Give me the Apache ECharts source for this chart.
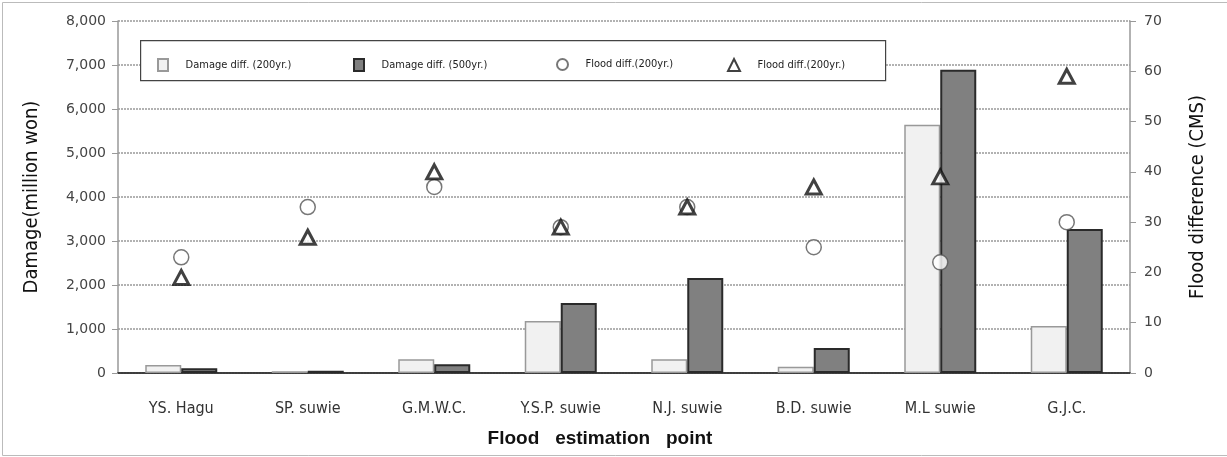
<!DOCTYPE html>
<html>
<head>
<meta charset="utf-8">
<script src="https://cdn.jsdelivr.net/npm/echarts@6/dist/echarts.min.js"></script>
<style>
  html, body { margin: 0; padding: 0; background: #fff; }
  #chart { width: 1227px; height: 457px; }
</style>
</head>
<body>
<div id="chart"></div>
<script>
const points = ["YS. Hagu", "SP. suwie", "G.M.W.C.", "Y.S.P. suwie", "N.J. suwie", "B.D. suwie", "M.L suwie", "G.J.C."];
const damage200 = [180, 40, 310, 1180, 310, 140, 5640, 1070];
const damage500 = [110, 50, 200, 1590, 2160, 570, 6890, 3270];
const flood200Circle = [23, 33, 37, 29, 33, 25, 22, 30];
const flood200Triangle = [19, 27, 40, 29, 33, 37, 39, 59];

const legendNames = ["Damage diff. (200yr.)", "Damage diff. (500yr.)", "Flood diff.(200yr.)", "Flood diff.(200yr.) "];

const chart = echarts.init(document.getElementById("chart"));

const narrow = "'DejaVu Sans Condensed', 'Liberation Sans', sans-serif";
const legendText = { fontFamily: narrow, fontSize: 11, color: "#222" };

function oneLegend(name, left, icon, w, h) {
  return {
    data: [{ name: name, icon: icon }],
    left: left,
    top: 53,
    itemWidth: w,
    itemHeight: h,
    itemGap: 0,
    textStyle: legendText,
    selectedMode: false,
  };
}

const option = {
  animation: false,
  backgroundColor: "#fff",
  graphic: [
    { type: "rect", left: 0, top: 0, shape: { width: 1226, height: 453 }, style: { fill: "none", stroke: "#bbb", lineWidth: 1 } },
    { type: "rect", left: 140, top: 40, shape: { width: 745, height: 40 }, style: { fill: "#fff", stroke: "#444", lineWidth: 1.2 }, z: 5 },
  ],
  legend: [
    oneLegend(legendNames[0], 152, "rect", 10, 12),
    oneLegend(legendNames[1], 348, "rect", 10, 12),
    oneLegend(legendNames[2], 551, "circle", 11, 11),
    oneLegend(legendNames[3], 722, "triangle", 12, 12),
  ].map((l) => Object.assign(l, { z: 10, formatter: (n) => "    " + n.trim() })),
  grid: { left: 118, right: 97, top: 21, bottom: 84 },
  xAxis: [
    {
      type: "category",
      data: points,
      axisLine: { lineStyle: { color: "#888", width: 1.5 } },
      axisTick: { show: false },
      axisLabel: { fontFamily: narrow, fontSize: 16, color: "#333", margin: 28 },
      name: "Flood   estimation   point",
      nameLocation: "middle",
      nameGap: 56,
      nameTextStyle: {
        fontFamily: "'Liberation Sans', sans-serif",
        fontWeight: "bold",
        fontSize: 19,
        color: "#111",
        padding: [0, 48, 0, 0],
      },
    },
    {
      type: "category",
      position: "top",
      data: points,
      axisLine: { lineStyle: { color: "#222", width: 1.5 } },
      axisTick: { show: false },
      axisLabel: { show: false },
    },
  ],
  yAxis: [
    {
      type: "value",
      min: 0,
      max: 8000,
      interval: 1000,
      axisLine: { show: true, lineStyle: { color: "#999", width: 1.5 } },
      axisTick: { show: true, length: 6, lineStyle: { color: "#999" } },
      axisLabel: {
        fontFamily: "'DejaVu Sans', sans-serif",
        fontSize: 14,
        color: "#444",
        margin: 12,
        formatter: (v) => v.toLocaleString("en-US"),
      },
      splitLine: { lineStyle: { color: "#999", type: [2, 1], width: 1.5 } },
      name: "Damage(million won)",
      nameLocation: "middle",
      nameGap: 76,
      nameTextStyle: { fontFamily: narrow, fontSize: 20, color: "#111" },
    },
    {
      type: "value",
      min: 0,
      max: 70,
      interval: 10,
      position: "right",
      axisLine: { show: true, lineStyle: { color: "#999", width: 1.5 } },
      axisTick: { show: true, length: 6, lineStyle: { color: "#999" } },
      axisLabel: { fontFamily: "'DejaVu Sans', sans-serif", fontSize: 14, color: "#444", margin: 14 },
      splitLine: { show: false },
      name: "Flood difference (CMS)",
      nameLocation: "middle",
      nameGap: 58,
      nameRotate: 90,
      nameTextStyle: { fontFamily: narrow, fontSize: 20, color: "#111" },
    },
  ],
  series: [
    {
      name: legendNames[0],
      type: "bar",
      data: damage200,
      barWidth: 36,
      barGap: "0%",
      itemStyle: { color: "#f1f1f1", borderColor: "#999", borderWidth: 1.5 },
    },
    {
      name: legendNames[1],
      type: "bar",
      data: damage500,
      barWidth: 36,
      barGap: "0%",
      itemStyle: { color: "#808080", borderColor: "#2a2a2a", borderWidth: 2 },
    },
    {
      name: legendNames[2],
      type: "scatter",
      yAxisIndex: 1,
      data: flood200Circle,
      symbol: "circle",
      symbolSize: 15,
      itemStyle: { color: "#fff", borderColor: "#555", borderWidth: 1.5 },
      z: 4,
    },
    {
      name: legendNames[3],
      type: "scatter",
      yAxisIndex: 1,
      data: flood200Triangle,
      symbol: "triangle",
      symbolSize: [15, 14],
      itemStyle: { color: "#fff", borderColor: "#111", borderWidth: 3 },
      z: 5,
    },
  ],
};

chart.setOption(option);
</script>
</body>
</html>
